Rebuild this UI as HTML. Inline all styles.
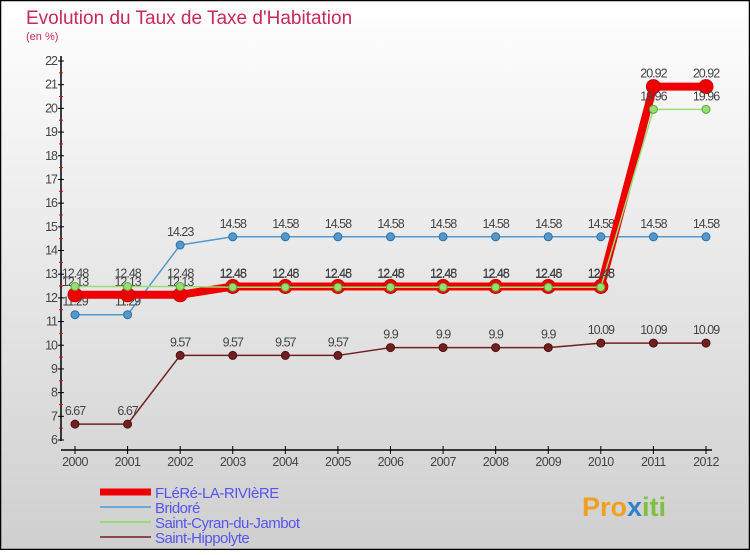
<!DOCTYPE html>
<html><head><meta charset="utf-8"><style>
html,body{margin:0;padding:0;}
body{width:750px;height:550px;overflow:hidden;font-family:"Liberation Sans",sans-serif;}
</style></head><body>
<svg id="chart" width="750" height="550" xmlns="http://www.w3.org/2000/svg">
<defs><linearGradient id="bg" x1="0" y1="0" x2="0" y2="1"><stop offset="0" stop-color="#ffffff"/><stop offset="1" stop-color="#cfcfcf"/></linearGradient></defs>
<rect x="0.5" y="0.5" width="749" height="549" fill="url(#bg)" stroke="#000" stroke-width="1.5"/>
<text x="26" y="24" font-size="19" fill="#c8285a">Evolution du Taux de Taxe d'Habitation</text>
<text x="26" y="40" font-size="11" fill="#c8285a">(en %)</text>
<g id="axes"></g><g id="series"></g><g id="legend"></g>
<text x="582" y="516" font-size="27" font-weight="bold" fill="#f0a020">Pro<tspan fill="#3080d0">x</tspan><tspan fill="#80c040">iti</tspan></text>
</svg>
<script>
const years=[2000,2001,2002,2003,2004,2005,2006,2007,2008,2009,2010,2011,2012];
const fleRe=[12.13,12.13,12.13,12.48,12.48,12.48,12.48,12.48,12.48,12.48,12.48,20.92,20.92];
const bridore=[11.29,11.29,14.23,14.58,14.58,14.58,14.58,14.58,14.58,14.58,14.58,14.58,14.58];
const saintCyran=[12.48,12.48,12.48,12.45,12.45,12.45,12.45,12.45,12.45,12.45,12.45,19.96,19.96];
const saintHippolyte=[6.67,6.67,9.57,9.57,9.57,9.57,9.9,9.9,9.9,9.9,10.09,10.09,10.09];
const yTicks=[6,7,8,9,10,11,12,13,14,15,16,17,18,19,20,21,22];
const seriesNames=["FLéRé-LA-RIVIèRE","Bridoré","Saint-Cyran-du-Jambot","Saint-Hippolyte"];
const NS="http://www.w3.org/2000/svg";
const x=i=>75+i*(706-75)/(years.length-1);
const y=v=>440-(v-6)*(440-61)/16;
function mk(p,t,a){const e=document.createElementNS(NS,t);for(const k in a)e.setAttribute(k,a[k]);p.appendChild(e);return e;}
const ax=document.getElementById('axes');
let e=mk(ax,'line',{x1:61,y1:56,x2:61,y2:441,stroke:'#000','stroke-width':1.5});


e=mk(ax,'line',{x1:61,y1:450,x2:712,y2:450,stroke:'#000','stroke-width':1.5});


yTicks.forEach(t=>{
 mk(ax,'line',{x1:58,x2:64,y1:y(t),y2:y(t),stroke:'#000'});
 if(t<22) mk(ax,'line',{x1:59,x2:63,y1:y(t+0.5),y2:y(t+0.5),stroke:'#e00'});
 const l=mk(ax,'text',{x:57,y:y(t)+4,'font-size':12.5,'text-anchor':'end',fill:'#444','letter-spacing':'-1'});
 l.textContent=t;
 
 
});
years.forEach((yr,i)=>{
 mk(ax,'line',{x1:x(i),x2:x(i),y1:446,y2:454,stroke:'#000'});
 const l=mk(ax,'text',{x:x(i),y:466,'font-size':12.5,'text-anchor':'middle',fill:'#444','letter-spacing':'-0.5'});
 l.textContent=yr;
 
 
});
const sg=document.getElementById('series');
function draw(vals,color,w,r,name,dotStroke){
 const g=mk(sg,'g',{});
 
 
 mk(g,'polyline',{points:vals.map((v,i)=>x(i)+','+y(v)).join(' '),fill:'none',stroke:color,'stroke-width':w,'stroke-linejoin':'round'});
 vals.forEach((v,i)=>{
  const c=mk(g,'circle',{cx:x(i),cy:y(v),r:r,fill:color,stroke:dotStroke,'stroke-width':1});
  
  
  const t=mk(g,'text',{x:x(i),y:y(v)-9,'font-size':12.5,'text-anchor':'middle',fill:'#444','letter-spacing':'-1'});
  t.textContent=v.toFixed(2).replace(/\.?0+$/,'');
  
  
 });
}
draw(saintHippolyte,'#702020',1.5,4,'series-saint-hippolyte','#501010');
draw(bridore,'#5599cc',1.5,4,'series-bridore','#2a70a8');
draw(fleRe,'#ee0000',8,7,'series-flere-la-riviere','#cc0000');
draw(saintCyran,'#99dd77',1.5,4,'series-saint-cyran','#55aa33');
const lg=document.getElementById('legend');
const lc=['#ee0000','#6aa8d8','#99dd77','#8a4a4a'],lw=[7,2,2,2];
seriesNames.forEach((n,i)=>{
 const yy=492+i*15;
 const g=mk(lg,'g',{});
 
 
 mk(g,'line',{x1:100,x2:151,y1:yy,y2:yy,stroke:lc[i],'stroke-width':lw[i]});
 const t=mk(g,'text',{x:155,y:yy+6,'font-size':15,fill:'#5555ee','letter-spacing':'-0.5'});
 t.textContent=n;
});
</script>
</body></html>
